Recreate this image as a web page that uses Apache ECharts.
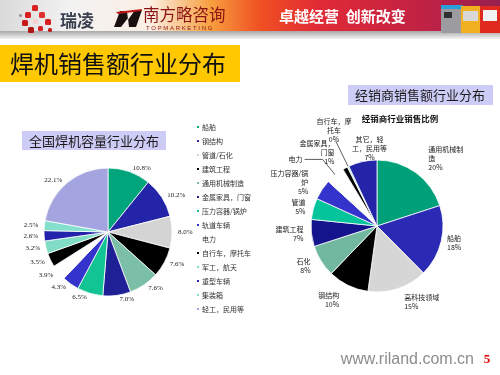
<!DOCTYPE html>
<html><head><meta charset="utf-8">
<script src="https://cdn.jsdelivr.net/npm/echarts@6/dist/echarts.min.js"></script>
<style>html,body{margin:0;padding:0;background:#fff}#c{width:500px;height:375px}</style>
</head><body><div id="c"></div>
<script>
// ---- data ----
const leftNames = ['船舶','钢结构','管道/石化','建筑工程','通用机械制造','金属家具，门窗','压力容器/锅炉','轨道车辆','电力','自行车，摩托车','军工，航天','重型车辆','集装箱','轻工，民用等'];
const leftValues = [10.8,10.2,8.0,7.6,7.6,7.0,6.5,4.3,3.9,3.5,3.2,2.6,2.5,22.1];
const rightNames = ['通用机械制造','船舶','高科技领域','钢结构','石化','建筑工程','管道','压力容器/锅炉','电力','金属家具，门窗','自行车，摩托车','其它，轻工，民用等'];
const rightValues = [20,17.6,14.6,10,7.8,6.6,5.2,5,4.6,1.2,0.4,7];
const rightLabelText = ['通用机械制\n造','船舶','高科技领域','钢结构','石化','建筑工程','管道','压力容器/锅\n炉','电力','金属家具，\n门窗','自行车，摩\n托车','其它，轻\n工，民用等'];
const rightShowPct = [true,true,true,true,true,true,true,true,false,true,true,true];

// ---- styles ----
const leftColors = ['#00a57c','#2424a8','#d4d4d4','#000000','#7cbfa8','#1f1f96','#12c494','#3434cc','#ffffff','#000000','#80dcc4','#2222aa','#84e0cc','#a4a4e0'];
const rightColors = ['#00a078','#2a2ab4','#d6d6d6','#000000','#72b8a0','#14148c','#04c49c','#3434cc','#ffffff','#000000','#a8e4d4','#2424a8'];
const rightLeader = [false,false,false,false,false,false,false,false,true,false,true,false];
const rightLineLen = [18,4,14,16,10,6,6,14,20,18,28,14];
const rightLineLen2 = [0,0,0,0,0,0,0,0,18,0,0,0];

const chart = echarts.init(document.getElementById('c'), null, {renderer:'canvas'});

const dot = (x,y,s,c)=>({type:'rect', z:3, shape:{x:x,y:y,width:s,height:s,r:1.5}, style:{fill:c}});

const graphics = [
  // banner
  {type:'rect', shape:{x:0,y:0,width:500,height:32}, style:{fill:new echarts.graphic.LinearGradient(0,0,1,0,[
    {offset:0,color:'#dadada'},{offset:0.14,color:'#f2f2f2'},{offset:0.3,color:'#fbefe4'},{offset:0.42,color:'#f7a040'},
    {offset:0.52,color:'#f05022'},{offset:0.64,color:'#e02a36'},{offset:0.85,color:'#c02244'},{offset:1,color:'#962050'}])}, z:1},
  {type:'rect', shape:{x:0,y:31,width:500,height:8}, style:{fill:new echarts.graphic.LinearGradient(0,0,0,1,[
    {offset:0,color:'#a8a8a8'},{offset:1,color:'#f4f4f4'}])}, z:1},
  // riland logo dots
  dot(32,5,6,'#d82020'), dot(25,12,6,'#d82020'), dot(39,12,6,'#e03030'), dot(22,20,6,'#c81818'),
  dot(45,19,6,'#d82020'), dot(28,27,6,'#b01818'), dot(38,26,5,'#d82020'), dot(48,28,4,'#c02020'),
  dot(19,14,3,'#909090'), dot(33,19,5,'#f6d0d0'),
  {type:'text', x:60, y:21, z:3, style:{text:'瑞凌', fontSize:17, fontWeight:'bold', fill:'#3a4050', fontFamily:'Noto Sans CJK SC', verticalAlign:'middle'}},
  // topmarketing logo swoosh
  {type:'polygon', z:3, shape:{points:[[114,27],[120,11],[127,11],[128,20],[135,10],[142,10],[136,27],[129,27],[128,18],[121,27]]}, style:{fill:'#1a1010'}},
  {type:'polygon', z:3, shape:{points:[[116,12],[142,9],[141,11],[118,14]]}, style:{fill:'#c01818'}},
  {type:'text', x:143, y:15, z:3, style:{text:'南方略咨询', fontSize:16.5, fill:'#8c1414', fontFamily:'Noto Sans CJK SC', verticalAlign:'middle'}},
  {type:'text', x:146, y:28, z:3, style:{text:'T O P M A R K E T I N G', fontSize:6, fill:'#8c1414', fontFamily:'Liberation Sans', verticalAlign:'middle'}},
  {type:'text', x:279, y:16, z:3, style:{text:'卓越经营  创新改变', fontSize:15, fontWeight:'bold', fill:'#ffffff', fontFamily:'Noto Sans CJK SC', verticalAlign:'middle'}},
  // product images (decorative)
  {type:'rect', z:3, shape:{x:441,y:7,width:22,height:26}, style:{fill:'#9c9ca0'}},
  {type:'rect', z:3, shape:{x:441,y:5,width:22,height:4}, style:{fill:'#2aa0d8'}},
  {type:'rect', z:3, shape:{x:444,y:12,width:8,height:6}, style:{fill:'#303030'}},
  {type:'rect', z:3, shape:{x:461,y:6,width:20,height:27}, style:{fill:'#f0b020'}},
  {type:'rect', z:3, shape:{x:463,y:11,width:15,height:10}, style:{fill:'#d8d8d8'}},
  {type:'rect', z:3, shape:{x:480,y:6,width:20,height:27}, style:{fill:'#e02a20'}},
  {type:'rect', z:3, shape:{x:483,y:10,width:14,height:11}, style:{fill:'#f2f2f2'}},
  // title band
  {type:'rect', shape:{x:0,y:45,width:240,height:37}, style:{fill:'#ffc800'}, z:1},
  {type:'text', x:10, y:64, z:2, style:{text:'焊机销售额行业分布', fontSize:24, fill:'#111', fontFamily:'Noto Sans CJK SC', verticalAlign:'middle'}},
  // left subtitle
  {type:'rect', shape:{x:22,y:131,width:144,height:19}, style:{fill:'#ccccf6'}, z:1},
  {type:'text', x:94, y:141, z:2, style:{text:'全国焊机容量行业分布', fontSize:13, fill:'#1a1a1a', fontFamily:'Noto Sans CJK SC', align:'center', verticalAlign:'middle'}},
  // right title
  {type:'rect', shape:{x:348,y:85,width:145,height:20}, style:{fill:'#ccccf6'}, z:1},
  {type:'text', x:420, y:95, z:2, style:{text:'经销商销售额行业分布', fontSize:13, fill:'#1a1a1a', fontFamily:'Noto Sans CJK SC', align:'center', verticalAlign:'middle'}},
  {type:'text', x:400, y:119, z:2, style:{text:'经销商行业销售比例', fontSize:8.5, fontWeight:'bold', fill:'#111', fontFamily:'Noto Sans CJK SC', align:'center', verticalAlign:'middle'}},
  // footer
  {type:'text', x:474, y:360, z:2, style:{text:'www.riland.com.cn', fontSize:16, fill:'#8c8c8c', fontFamily:'Liberation Sans', align:'right', verticalAlign:'middle'}},
  {type:'text', x:487, y:360, z:2, style:{text:'5', fontSize:13, fontWeight:'bold', fill:'#e00000', fontFamily:'Liberation Serif', align:'center', verticalAlign:'middle'}}
];

const option = {
  animation:false,
  backgroundColor:'#ffffff',
  graphic: graphics,
  legend: {
    orient:'vertical', left:190, top:118, padding:5,
    itemWidth:4, itemHeight:4, itemGap:6, icon:'rect',
    selectedMode:false,
    textStyle:{fontSize:7, lineHeight:8, color:'#333', fontFamily:'Noto Sans CJK SC', padding:[0,0,0,-3]},
    data: leftNames
  },
  series: [
    {
      type:'pie', center:[108,232], radius:64, startAngle:90, clockwise:true,
      silent:true, avoidLabelOverlap:false,
      data: leftNames.map((n,i)=>({name:n, value:leftValues[i], itemStyle:{color:leftColors[i]}})),
      itemStyle:{borderColor:'#ffffff', borderWidth:0.8},
      label:{show:true, position:'outside', formatter:p=>p.value.toFixed(1)+'%', fontSize:7, fontFamily:'Liberation Serif', color:'#222', distanceToLabelLine:2},
      labelLine:{show:false, length:4, length2:0},
      emphasis:{disabled:true}
    },
    {
      type:'pie', center:[377,226], radius:66, startAngle:90, clockwise:true,
      silent:true, avoidLabelOverlap:false,
      data: rightNames.map((n,i)=>({name:n, value:rightValues[i], itemStyle:{color:rightColors[i]},
        labelLine:{show:rightLeader[i], length:rightLineLen[i], length2:rightLineLen2[i]}})),
      itemStyle:{borderColor:'#ffffff', borderWidth:0.8},
      label:{show:true, position:'outside', distanceToLabelLine:2,
        formatter:p=>rightShowPct[p.dataIndex] ? rightLabelText[p.dataIndex]+'\n'+Math.round(p.value)+'%' : rightLabelText[p.dataIndex],
        fontSize:7, lineHeight:9, fontFamily:'Noto Sans CJK SC', color:'#222', align:'center'},
      labelLine:{show:false, lineStyle:{color:'#333', width:0.8}},
      labelLayout: p => (p.dataIndex === 11 ? {align:'center', dx:12} : (p.dataIndex === 10 ? {align:'center', dy:-11} : {})),
      emphasis:{disabled:true}
    }
  ]
};
chart.setOption(option);
</script>
</body></html>
